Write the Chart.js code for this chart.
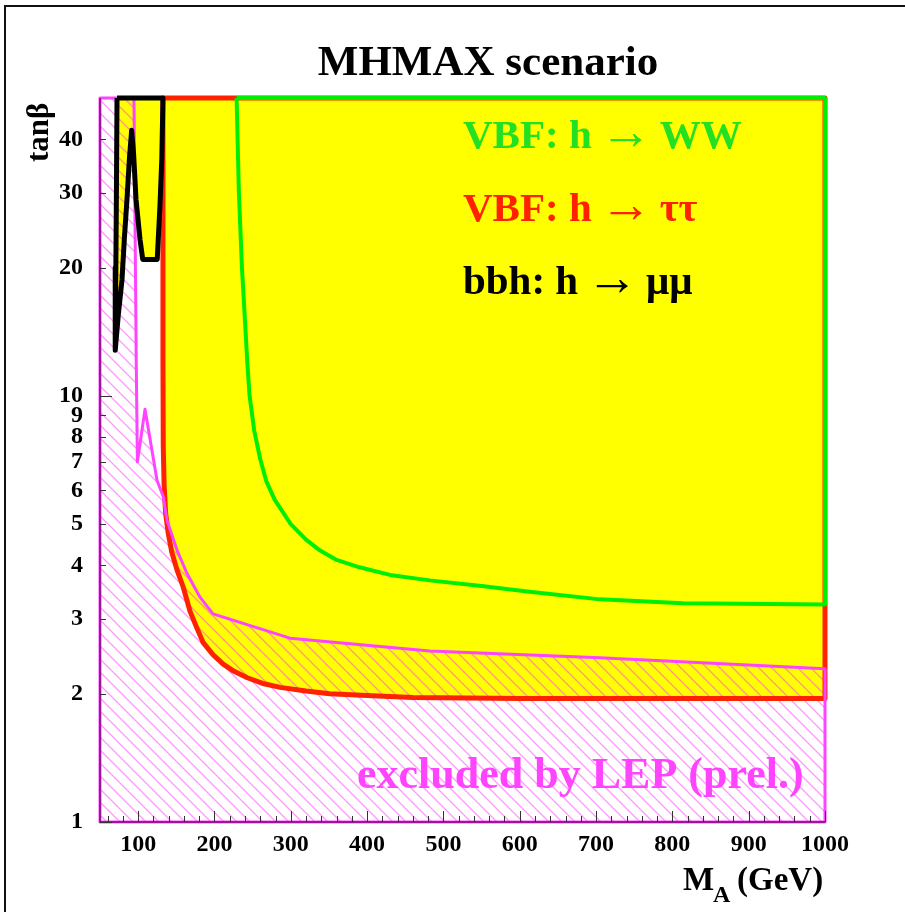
<!DOCTYPE html>
<html><head><meta charset="utf-8">
<script src="https://cdn.jsdelivr.net/npm/chart.js@4.4.1/dist/chart.umd.min.js"></script>
<style>html,body{margin:0;padding:0;background:#fff;overflow:hidden}canvas{display:block}</style>
</head><body>
<canvas id="c" width="905" height="912"></canvas>
<script>
// ---- axis ranges & ticks ----
const X_MIN = 50, X_MAX = 1000, Y_MIN = 1, Y_MAX = 50;
const xTickValues = [100, 200, 300, 400, 500, 600, 700, 800, 900, 1000];
const yTickValues = [1, 2, 3, 4, 5, 6, 7, 8, 9, 10, 20, 30, 40];

// ---- VBF: h -> tau tau (red) contour: M_A (GeV), tan(beta) ----
const tauMA   = [132.5, 132.5, 132.9, 134, 136, 139.5, 144, 151, 159, 168, 177, 185, 198, 211, 225, 243, 265, 286, 320, 351, 400, 460, 600, 1000];
const tauTanB = [50, 12, 7.6, 6.2, 5.3, 4.75, 4.3, 3.9, 3.56, 3.12, 2.85, 2.64, 2.47, 2.35, 2.26, 2.18, 2.11, 2.07, 2.03, 2.0, 1.98, 1.96, 1.95, 1.95];

// ---- VBF: h -> WW (green) contour ----
const wwMA   = [229, 232, 236, 240, 243, 246, 252, 260, 268, 279, 300, 320, 338, 360, 390, 430, 482, 550, 613, 705, 814, 1000];
const wwTanB = [50, 30, 20, 15, 12, 10, 8.3, 7.1, 6.3, 5.7, 5.0, 4.6, 4.34, 4.12, 3.96, 3.8, 3.69, 3.58, 3.47, 3.33, 3.26, 3.24];

// ---- bbh: h -> mu mu (black) contour ----
const mumuMA   = [72.3, 71.5, 70.8, 70.2, 69.7, 74, 78.8, 82, 85.4, 88.5, 91.5, 94, 97.2, 102.4, 106, 125, 128.6, 131, 132.5];
const mumuTanB = [50, 30, 20, 15, 12.8, 15.5, 18.7, 23.5, 29, 36, 42, 37, 28.9, 23.3, 20.9, 20.9, 28, 36, 50];

// ---- LEP excluded (preliminary) boundary (magenta) ----
const lepMA   = [94.5, 97.5, 99, 109, 124.7, 132.9, 137.8, 151, 164, 181, 198, 299, 482, 705, 1000];
const lepTanB = [50, 12, 7.0, 9.3, 6.34, 5.8, 5.1, 4.34, 3.83, 3.37, 3.08, 2.70, 2.52, 2.43, 2.29];

// ---- helpers ----
const P = (xs, ys) => xs.map((x, i) => ({x, y: ys[i]}));
const closeTopRight = (xs, ys) => P([...xs, X_MAX, xs[0]], [...ys, Y_MAX, Y_MAX]);
const closeSelf = (xs, ys) => P([...xs, xs[0]], [...ys, ys[0]]);
const closeBottomLeft = (xs, ys) => P([...xs, X_MAX, X_MIN, X_MIN, xs[0]], [...ys, Y_MIN, Y_MIN, Y_MAX, ys[0]]);

const YELLOW = '#ffff00', RED = '#ff2200', GREEN = '#00ee00', PINK = '#ff44ff', BLACK = '#000000';
const SERIF = '"Liberation Serif", "Times New Roman", serif';

const hatch = (() => {
  const s = 13, c = document.createElement('canvas'); c.width = s; c.height = s;
  const g = c.getContext('2d');
  g.strokeStyle = 'rgba(255,50,255,0.5)'; g.lineWidth = 1.3;
  g.beginPath();
  g.moveTo(-2, -2); g.lineTo(s + 2, s + 2);
  g.moveTo(-2, s - 2); g.lineTo(2, s + 2);
  g.moveTo(s - 2, -2); g.lineTo(s + 2, 2);
  g.stroke();
  return g.createPattern(c, 'repeat');
})();

const base = {pointRadius: 0, pointHoverRadius: 0, tension: 0, borderJoinStyle: 'round', clip: 8, spanGaps: true};
const NONE = 'rgba(0,0,0,0)';

const datasets = [
  {...base, label: 'tautau area', data: closeTopRight(tauMA, tauTanB), fill: 'shape', backgroundColor: YELLOW, borderColor: NONE, borderWidth: 0, order: 10},
  {...base, label: 'mumu area', data: closeSelf(mumuMA, mumuTanB), fill: 'shape', backgroundColor: YELLOW, borderColor: NONE, borderWidth: 0, order: 9},
  {...base, label: 'LEP area', data: closeBottomLeft(lepMA, lepTanB), fill: 'shape', backgroundColor: hatch, borderColor: NONE, borderWidth: 0, order: 8},
  {...base, label: 'VBF h->tautau', data: closeTopRight(tauMA, tauTanB), fill: false, borderColor: RED, borderWidth: 5, order: 7},
  {...base, label: 'LEP', data: closeBottomLeft(lepMA, lepTanB), fill: false, borderColor: PINK, borderWidth: 3, order: 6},
  {...base, label: 'VBF h->WW', data: closeTopRight(wwMA, wwTanB), fill: false, borderColor: GREEN, borderWidth: 4, order: 5},
  {...base, label: 'bbh h->mumu', data: closeSelf(mumuMA, mumuTanB), fill: false, borderColor: BLACK, borderWidth: 5, order: 4}
];

function legendLine(ctx, color, left, right, x, y) {
  ctx.fillStyle = color;
  ctx.font = 'bold 41px ' + SERIF;
  ctx.fillText(left, x, y);
  let cx = x + ctx.measureText(left).width + 8;
  ctx.font = '52px ' + SERIF;
  ctx.fillText('\u2192', cx, y + 1);
  cx += ctx.measureText('\u2192').width + 8;
  ctx.font = 'bold 41px ' + SERIF;
  ctx.fillText(right, cx, y);
}

const decor = {
  id: 'decor',
  beforeDraw(chart) {
    const ctx = chart.ctx;
    ctx.save();
    ctx.strokeStyle = '#111'; ctx.lineWidth = 2;
    ctx.beginPath(); ctx.moveTo(5, 912); ctx.lineTo(5, 6); ctx.lineTo(905, 6); ctx.stroke();
    ctx.restore();
  },
  afterDatasetsDraw(chart) {
    const {ctx, chartArea: a, scales: {x, y}} = chart;
    ctx.save();
    ctx.strokeStyle = 'rgba(110,0,110,0.9)'; ctx.lineWidth = 1.5;
    ctx.beginPath(); ctx.moveTo(a.left, a.top); ctx.lineTo(a.left, a.bottom); ctx.lineTo(a.right, a.bottom); ctx.stroke();
    ctx.strokeStyle = '#333'; ctx.lineWidth = 1;
    ctx.beginPath();
    for (let v = 60; v <= X_MAX; v += 20) {
      const px = Math.round(x.getPixelForValue(v)) + 0.5;
      const len = v % 100 === 0 ? 11 : 6;
      ctx.moveTo(px, a.bottom); ctx.lineTo(px, a.bottom - len);
    }
    for (const v of yTickValues) {
      const py = Math.round(y.getPixelForValue(v)) + 0.5;
      const len = (v === 1 || v === 10) ? 12 : 6;
      ctx.moveTo(a.left, py); ctx.lineTo(a.left + len, py);
    }
    ctx.stroke();
    ctx.restore();
  },
  afterDraw(chart) {
    const ctx = chart.ctx;
    ctx.save();
    ctx.textBaseline = 'alphabetic';
    ctx.fillStyle = '#000'; ctx.font = 'bold 43px ' + SERIF; ctx.textAlign = 'center';
    ctx.fillText('MHMAX scenario', 488, 75);
    ctx.textAlign = 'left';
    legendLine(ctx, '#22e022', 'VBF: h', 'WW', 463, 148);
    legendLine(ctx, RED, 'VBF: h', '\u03c4\u03c4', 463, 221);
    legendLine(ctx, '#000', 'bbh: h', '\u03bc\u03bc', 463, 294);
    ctx.fillStyle = PINK; ctx.font = 'bold 44px ' + SERIF;
    ctx.fillText('excluded by LEP (prel.)', 357, 788);
    ctx.fillStyle = '#000';
    ctx.font = 'bold 33px ' + SERIF; ctx.fillText('M', 683, 890);
    ctx.font = 'bold 24px ' + SERIF; ctx.fillText('A', 713, 902);
    ctx.font = 'bold 33px ' + SERIF; ctx.fillText('(GeV)', 737, 890);
    ctx.translate(48, 162); ctx.rotate(-Math.PI / 2);
    ctx.font = 'bold 31px ' + SERIF; ctx.fillText('tan\u03b2', 0, 0);
    ctx.restore();
  }
};

new Chart(document.getElementById('c'), {
  type: 'line',
  data: {datasets},
  options: {
    responsive: false, devicePixelRatio: 1, animation: false, events: [],
    layout: {padding: {left: 0, right: 80, top: 98, bottom: 0}},
    plugins: {legend: {display: false}, title: {display: false}, tooltip: {enabled: false}},
    scales: {
      x: {
        type: 'linear', min: X_MIN, max: X_MAX,
        afterBuildTicks: s => { s.ticks = xTickValues.map(v => ({value: v})); },
        afterFit: s => { s.height = 90; },
        grid: {display: false, drawTicks: false}, border: {display: false},
        ticks: {color: '#000', font: {family: SERIF, weight: 'bold', size: 24}, padding: 8, maxRotation: 0, autoSkip: false, callback: v => String(v)}
      },
      y: {
        type: 'logarithmic', min: Y_MIN, max: Y_MAX,
        afterBuildTicks: s => { s.ticks = yTickValues.map(v => ({value: v})); },
        afterFit: s => { s.width = 100; },
        grid: {display: false, drawTicks: false}, border: {display: false},
        ticks: {color: '#000', font: {family: SERIF, weight: 'bold', size: 24}, padding: 17, autoSkip: false, callback: v => String(v)}
      }
    }
  },
  plugins: [decor]
});
</script>
</body></html>
